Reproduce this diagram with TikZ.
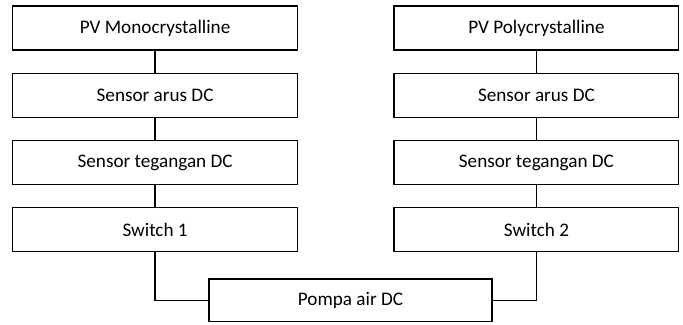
\documentclass[tikz,border=0pt]{standalone}
\usepackage{fontspec}
\setmainfont{Carlito}
\usetikzlibrary{positioning}

\begin{document}
\begin{tikzpicture}[
        block/.style = {draw, line width = 0.8pt, rectangle, minimum width = 6cm, minimum height = 0.93cm, font = \fontsize{11.5}{13}\selectfont},
        wire/.style = {line width = 0.8pt}
    ]

        % Page frame
        \useasboundingbox (0,0) rectangle (14.40,-6.85);

        % Left column
        \node[block] (monopv) at (3.27,-0.59) {PV Monocrystalline};
        \node[block, below = 0.46cm of monopv] (arusA) {Sensor arus DC};
        \node[block, below = 0.46cm of arusA] (teganganA) {Sensor tegangan DC};
        \node[block, below = 0.46cm of teganganA] (switchA) {Switch 1};

        % Right column
        \node[block] (polypv) at (11.31,-0.59) {PV Polycrystalline};
        \node[block, below = 0.46cm of polypv] (arusB) {Sensor arus DC};
        \node[block, below = 0.46cm of arusB] (teganganB) {Sensor tegangan DC};
        \node[block, below = 0.46cm of teganganB] (switchB) {Switch 2};

        % Pump
        \node[block, minimum width = 5.97cm, minimum height = 0.89cm] (pompa) at (7.39,-6.33) {Pompa air DC};

        \draw[wire] (monopv) -- (arusA);
        \draw[wire] (arusA) -- (teganganA);
        \draw[wire] (teganganA) -- (switchA);
        \draw[wire] (polypv) -- (arusB);
        \draw[wire] (arusB) -- (teganganB);
        \draw[wire] (teganganB) -- (switchB);
        \draw[wire] (switchA) |- (pompa);
        \draw[wire] (switchB) |- (pompa);
    \end{tikzpicture}
\end{document}
